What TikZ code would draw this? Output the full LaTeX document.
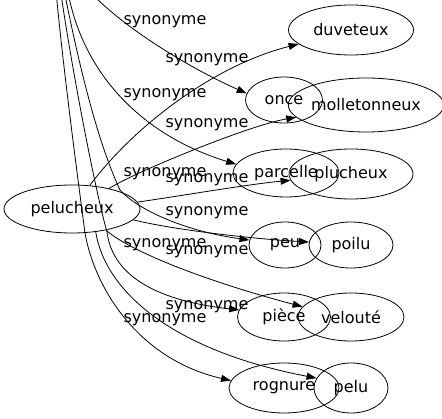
\documentclass[tikz,border=0pt]{standalone}
\usepackage{fontspec}
\setmainfont{DejaVu Sans}
\usetikzlibrary{arrows.meta,shapes.geometric}

\tikzset{
  word/.style={ellipse, draw, line width=0.8pt, inner sep=0pt, minimum height=48pt, font=\fontsize{16}{18}\selectfont},
  syn/.style={-{Triangle[length=10pt,width=7pt]}, line width=0.8pt},
  lbl/.style={inner sep=0pt, font=\fontsize{16}{18}\selectfont},
}

\begin{document}
\begin{tikzpicture}[x=1pt,y=-1pt]
\useasboundingbox (0,0) rectangle (442,419);
\clip (0,0) rectangle (442,419);

\node[word, minimum width=136pt] (pel) at (72,209) {pelucheux};
\node[word, minimum width=125pt, minimum height=50pt] (duv) at (351,30) {duveteux};
\node[word, minimum width=136pt, minimum height=54pt] (mol) at (366,105) {molletonneux};
\node[word, minimum width=77pt, minimum height=46pt] (once) at (284,100) {once};
\node[word, minimum width=106pt] (parc) at (286,173) {parcelle};
\node[word, minimum width=124pt, minimum height=50pt] (pluch) at (351,174) {plucheux};
\node[word, minimum width=72pt, minimum height=46pt] (peu) at (285,245) {peu};
\node[word, minimum width=84pt, minimum height=46pt] (poilu) at (351,245) {poilu};
\node[word, minimum width=93pt] (piece) at (284,317) {pièce};
\node[word, minimum width=106pt] (vel) at (351,317) {velouté};
\node[word, minimum width=110pt, minimum height=50pt] (rogn) at (284,388) {rognure};
\node[word, minimum width=74pt, minimum height=50pt] (pelu) at (351,388) {pelu};

% free ends above the picture
\coordinate (up1) at (78,-22);
\coordinate (up2) at (66,-20);
\coordinate (up3) at (62,-20);
\coordinate (up4) at (59,-20);
\coordinate (up5) at (55,-20);

\draw[syn] (up1) .. controls (110,20) and (185,66) .. (once.170);
\draw[syn] (up2) .. controls (78,70) and (140,135) .. (parc.170);
\draw[syn] (up3) .. controls (72,30) and (92,130) .. (120,190)
  .. controls (140,212) and (190,232) .. (peu.172);
\draw[syn] (up4) .. controls (70,60) and (95,190) .. (107,232)
  .. controls (112,272) and (150,300) .. (piece.171);
\draw[syn] (up5) .. controls (62,60) and (78,180) .. (85,233)
  .. controls (95,290) and (140,360) .. (rogn.172);

\draw[syn] (pel.53) .. controls (135,125) and (215,65) .. (duv.195);
\draw[syn] (pel.29) .. controls (135,172) and (250,125) .. (mol.190);
\draw[syn] (pel.6) .. controls (180,196) and (250,184) .. (pluch.186);
\draw[syn] (pel.350) .. controls (165,228) and (240,238) .. (poilu.176);
\draw[syn] (pel.328) .. controls (135,255) and (220,285) .. (vel.168);
\draw[syn] (pel.316) .. controls (105,290) and (170,350) .. (pelu.164);

%labels
\node[lbl] (s1) at (165,22) {synonyme};
\node[lbl] (s2) at (207,60) {synonyme};
\node[lbl] (s3) at (165,95) {synonyme};
\node[lbl] (s4) at (207,125) {synonyme};
\node[lbl] (s5) at (165,174) {synonyme};
\node[lbl] (s6) at (207,180) {synonyme};
\node[lbl] (s7) at (207,213) {synonyme};
\node[lbl] (s8) at (165,245) {synonyme};
\node[lbl] (s9) at (207,252) {synonyme};
\node[lbl] (s10) at (207,307) {synonyme};
\node[lbl] (s11) at (165,320) {synonyme};
\end{tikzpicture}
\end{document}
